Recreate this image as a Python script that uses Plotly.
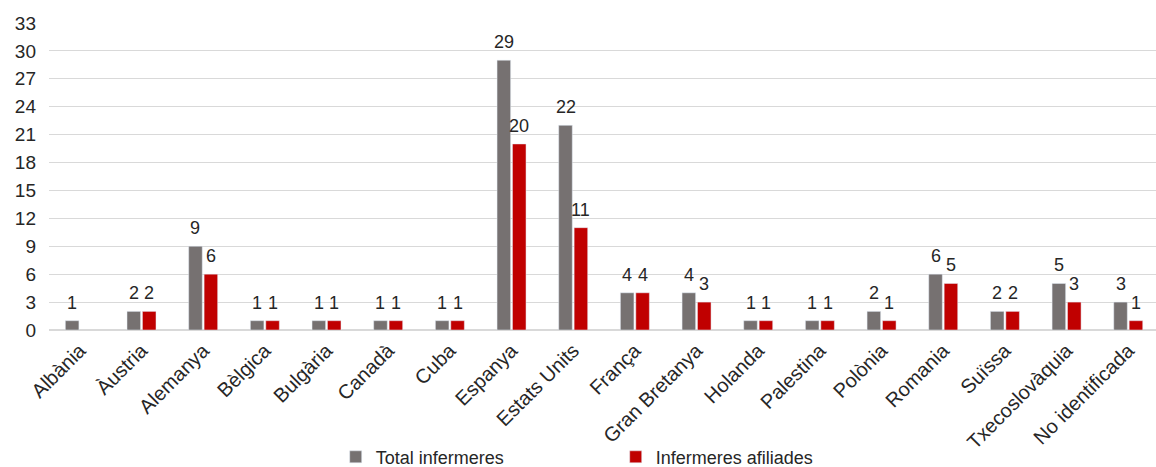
import plotly.graph_objects as go

categories = ["Albània", "Àustria", "Alemanya", "Bèlgica", "Bulgària", "Canadà", "Cuba",
              "Espanya", "Estats Units", "França", "Gran Bretanya", "Holanda", "Palestina",
              "Polònia", "Romania", "Suïssa", "Txecoslovàquia", "No identificada"]
total = [1, 2, 9, 1, 1, 1, 1, 29, 22, 4, 4, 1, 1, 2, 6, 2, 5, 3]
afiliades = [None, 2, 6, 1, 1, 1, 1, 20, 11, 4, 3, 1, 1, 1, 5, 2, 3, 1]
y_ticks = list(range(0, 34, 3))

font_fam = "Arial, Liberation Sans, sans-serif"
txt_col = "#262626"

fig = go.Figure()
fig.add_trace(go.Bar(x=categories, y=total, name="Total infermeres", marker_color="#767171"))
fig.add_trace(go.Bar(x=categories, y=afiliades, name="Infermeres afiliades", marker_color="#C00000"))

# data labels above each bar
for series, shift in ((total, -7.7), (afiliades, 7.7)):
    for cat, val in zip(categories, series):
        if val is None:
            continue
        fig.add_annotation(x=cat, y=val, text=str(val), showarrow=False,
                           xshift=shift, yshift=6, yanchor="bottom",
                           font=dict(size=18, color=txt_col, family=font_fam))

fig.update_layout(
    width=1156, height=467,
    margin=dict(l=49, r=0, t=23, b=137, autoexpand=False),
    paper_bgcolor="white", plot_bgcolor="white",
    barmode="group", bargap=0.5, bargroupgap=0.12,
    font=dict(family=font_fam, color=txt_col),
    showlegend=True,
    legend=dict(orientation="h", x=0.259, xanchor="left", y=-0.414, yanchor="middle",
                entrywidth=235, entrywidthmode="pixels", bgcolor="rgba(0,0,0,0)",
                font=dict(size=18, color=txt_col), itemwidth=30),
    xaxis=dict(tickangle=-45, tickfont=dict(size=20, color=txt_col), automargin=False,
               range=[-0.5, 17.45],
               showline=True, linecolor="#d9d9d9", linewidth=1, ticks=""),
    yaxis=dict(range=[0, 33], tickvals=y_ticks, tickfont=dict(size=19, color=txt_col),
               automargin=False,
               showgrid=True, gridcolor="#d9d9d9", gridwidth=1, zeroline=True,
               zerolinecolor="#d9d9d9", ticks="", ticklabelstandoff=12),
)

fig.write_html("out.html")
